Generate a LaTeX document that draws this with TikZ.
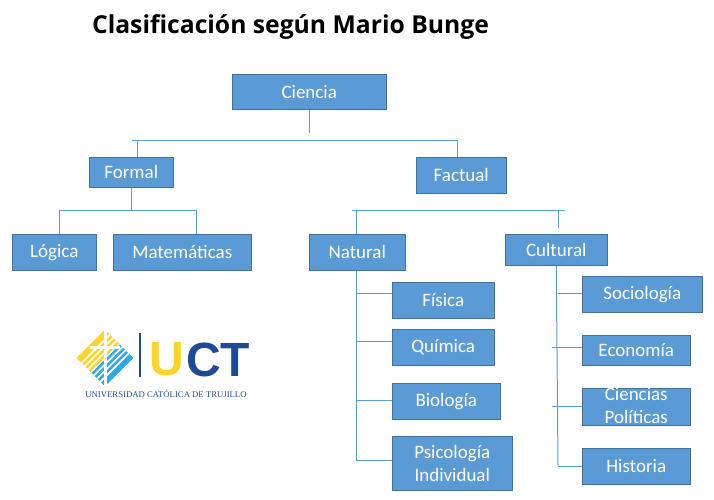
\documentclass[tikz,border=0pt]{standalone}
\usepackage{fontspec}
\setmainfont{Carlito}
\newfontfamily\titlefont{Open Sans}
\newfontfamily\logofont{Liberation Sans}
\newfontfamily\logoserif{Liberation Serif}
\usetikzlibrary{positioning}
\definecolor{boxfill}{HTML}{5B9BD5}
\definecolor{boxedge}{HTML}{41719C}
\definecolor{logoyellow}{HTML}{FFD32A}
\definecolor{logosky}{HTML}{2FA9E4}
\definecolor{logonavy}{HTML}{1F4A94}
\tikzset{
  box/.style={draw=boxedge, fill=boxfill, text=white, line width=1pt, inner sep=0pt, anchor=north west, align=center, font=\fontsize{19}{23}\selectfont},
  branch/.style={draw=boxfill, line width=1pt}
}

\begin{document}
\begin{tikzpicture}[x=1pt, y=-1pt]
    \useasboundingbox (0,0) rectangle (714,500);
    \node (title) at (290.5,27) [font=\titlefont\fontsize{24.7}{28}\selectfont\bfseries] {Clasificación según Mario Bunge};  % Heading

    % Nodes, upper levels
    \node (ciencia) at (232,74) [box, minimum width=153.5pt, minimum height=35.5pt] {Ciencia};
    \node (formal) at (89,157) [box, minimum width=83.5pt, minimum height=29.5pt] {Formal};
    \node (factual) at (416,157) [box, minimum width=89.5pt, minimum height=35.5pt] {Factual};
    \node (logica) at (12,234) [box, minimum width=83.5pt, minimum height=35.5pt] {Lógica};
    \node (matematicas) at (113,234) [box, minimum width=137.5pt, minimum height=35.5pt] {Matemáticas};
    \node (natural) at (309,234) [box, minimum width=95.5pt, minimum height=35.5pt] {Natural};
    \node (cultural) at (505,234) [box, minimum width=101.5pt, minimum height=30.5pt] {Cultural};

    % Nodes, natural sciences
    \node (fisica) at (392,282) [box, minimum width=101.5pt, minimum height=35.5pt] {Física};
    \node (quimica) at (392,329) [box, minimum width=101.5pt, minimum height=35.5pt] {Química};
    \node (biologia) at (392,383) [box, minimum width=107.5pt, minimum height=35.5pt] {Biología};
    \node (psicologia) at (392,436) [box, minimum width=119.5pt, minimum height=53.5pt] {Psicología\\Individual};

    % Nodes, cultural sciences
    \node (sociologia) at (582,276) [box, minimum width=119.5pt, minimum height=35.5pt] {Sociología};
    \node (economia) at (582,335) [box, minimum width=107.5pt, minimum height=29.5pt] {Economía};
    \node (politicas) at (582,388) [box, minimum width=107.5pt, minimum height=36.5pt, text height=34pt, text depth=0pt] {Ciencias\\Políticas};
    \node (historia) at (582,448) [box, minimum width=107.5pt, minimum height=35.5pt] {Historia};

    % Free ends of the connectors
    \coordinate (cienciastem) at (309,133);
    \coordinate (topleft) at (132,140);
    \coordinate (topright) at (457,140);
    \coordinate (formaldrop) at (137,140);
    \coordinate (formaljoin) at (131,210);
    \coordinate (logicadrop) at (59,210);
    \coordinate (matematicasdrop) at (196,210);
    \coordinate (factualleft) at (352,210);
    \coordinate (factualright) at (565,210);
    \coordinate (naturaldrop) at (356,210);
    \coordinate (culturaldrop) at (558,210);
    \coordinate (culturalstop) at (558,228);
    \coordinate (naturalend) at (356,460);
    \coordinate (culturalend) at (558,466);

    % Connectors
    \draw [branch] (cienciastem |- ciencia.south) -- (cienciastem);
    \draw [branch] (topleft) -- (topright) -- (topright |- factual.north);
    \draw [branch] (formaldrop) -- (formaldrop |- formal.north);
    \draw [branch] (formaljoin |- formal.south) -- (formaljoin);
    \draw [branch] (logicadrop |- logica.north) -- (logicadrop) -- (matematicasdrop) -- (matematicasdrop |- matematicas.north);
    \draw [branch] (factualleft) -- (factualright);
    \draw [branch] (naturaldrop) -- (naturaldrop |- natural.north);
    \draw [branch] (culturaldrop) -- (culturalstop);
    \draw [branch] (naturalend |- natural.south) -- (naturalend);
    \draw [branch] (cultural.south) -- (culturalend);
    \foreach \leaf/\tapx/\tapy in {fisica/356/293, quimica/356/341, biologia/356/400, psicologia/356/460, sociologia/558/293, economia/552/347, politicas/552/406, historia/558/466} {
        \coordinate (\leaf tap) at (\tapx,\tapy);
        \draw [branch] (\leaf tap) -- (\leaf tap -| \leaf.west);
    }

    % Logo
    \begin{scope}[shift={(105,358)}, rotate=45]
        \foreach \bandtop/\bandwidth in {-20/6, -12/2.5, -7.5/2.5, -3/2.5} {
            \fill [logoyellow] (-20,\bandtop) rectangle (20,\bandtop+\bandwidth);
        }
        \foreach \bandtop/\bandwidth in {1/2.5, 5.5/2.5, 10/2.5, 14.5/5.5} {
            \fill [logosky] (-20,\bandtop) rectangle (20,\bandtop+\bandwidth);
        }
    \end{scope}
    \fill [white] (103.5,330) rectangle (106.5,386);
    \fill [white] (90,345.5) rectangle (120,348.5);
    \fill [logonavy] (138.7,333) rectangle (141.3,377);
    \node (logou) at (167,359.5) [text=logoyellow, font=\logofont\fontsize{48}{48}\selectfont\bfseries, inner sep=0pt] {U};
    \node (logoct) at (218,359.5) [text=logonavy, font=\logofont\fontsize{48}{48}\selectfont\bfseries, inner sep=0pt] {CT};
    \node (logoname) at (166,394) [text=logonavy, font=\logoserif\fontsize{8.7}{10}\selectfont, inner sep=0pt] {UNIVERSIDAD CATÓLICA DE TRUJILLO};
\end{tikzpicture}
\end{document}
